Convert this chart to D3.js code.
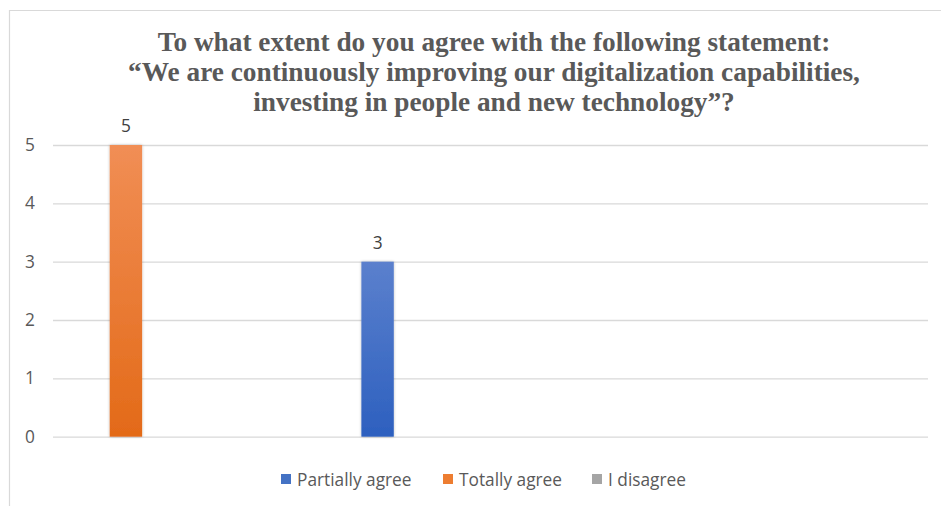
<!DOCTYPE html>
<html>
<head>
<meta charset="utf-8">
<script src="https://cdn.jsdelivr.net/npm/d3@7/dist/d3.min.js"></script>
<style>
  html, body { margin: 0; padding: 0; background: #fff; }
  svg { display: block; }
</style>
</head>
<body>
<div id="chart"></div>
<script>
// Survey responses, one slot per question group (labels left blank on the axis)
const categories = ["q1", "q2", "q3", "q4", "q5", "q6"];
const seriesNames = ["Partially agree", "Totally agree", "I disagree"];
const partiallyAgree = [null, null, 3, null, null, null];
const totallyAgree   = [5, null, null, null, null, null];
const iDisagree      = [null, null, null, null, null, null];
const yTicks = [0, 1, 2, 3, 4, 5];
const titleLines = [
  "To what extent do you agree with the following statement:",
  "\u201CWe are continuously improving our digitalization capabilities,",
  "investing in people and new technology\u201D?"
];

const seriesValues = [partiallyAgree, totallyAgree, iDisagree];
const colors = {
  "Partially agree": ["#5b80cd", "#2d60bf"],
  "Totally agree":   ["#f18e55", "#e36a18"],
  "I disagree":      ["#b4b4b4", "#909090"]
};
const legendColors = { "Partially agree": "#4472c4", "Totally agree": "#ed7d31", "I disagree": "#a5a5a5" };
const sans = "'Open Sans', 'Noto Sans', sans-serif";
const sansSize = 17.3;

const W = 941, H = 506;
const plot = { left: 53, right: 928, top: 145, bottom: 436.7 };

const svg = d3.select("#chart").append("svg").attr("width", W).attr("height", H);
const defs = svg.append("defs");

seriesNames.forEach((s, i) => {
  const g = defs.append("linearGradient")
    .attr("id", "grad" + i).attr("x1", 0).attr("y1", 0).attr("x2", 0).attr("y2", 1);
  g.append("stop").attr("offset", "0%").attr("stop-color", colors[s][0]);
  g.append("stop").attr("offset", "100%").attr("stop-color", colors[s][1]);
});

const shadow = defs.append("filter").attr("id", "barShadow")
  .attr("x", "-30%").attr("y", "-5%").attr("width", "160%").attr("height", "110%");
shadow.append("feGaussianBlur").attr("in", "SourceAlpha").attr("stdDeviation", 1.6).attr("result", "b");
shadow.append("feComponentTransfer").attr("in", "b").attr("result", "s")
  .append("feFuncA").attr("type", "linear").attr("slope", 0.25);
const merge = shadow.append("feMerge");
merge.append("feMergeNode").attr("in", "s");
merge.append("feMergeNode").attr("in", "SourceGraphic");

// Chart frame
svg.append("line").attr("x1", 9).attr("x2", W).attr("y1", 10.5).attr("y2", 10.5)
  .attr("stroke", "#d9d9d9").attr("stroke-width", 1.2);
svg.append("line").attr("x1", 9.5).attr("x2", 9.5).attr("y1", 10).attr("y2", H)
  .attr("stroke", "#d9d9d9").attr("stroke-width", 1.2);

// Title
svg.append("text")
  .attr("text-anchor", "middle")
  .attr("font-family", "'Liberation Serif', 'Times New Roman', serif")
  .attr("font-weight", "bold")
  .attr("font-size", 27.3)
  .attr("fill", "#595959")
  .selectAll("tspan").data(titleLines).join("tspan")
  .attr("x", 494)
  .attr("y", (d, i) => 51 + i * 30)
  .text(d => d);

const x = d3.scaleBand().domain(categories).range([plot.left, plot.right]);
const inner = d3.scaleBand().domain(seriesNames)
  .range([x.bandwidth() / 2 - 60, x.bandwidth() / 2 + 60])
  .paddingInner(0.19).paddingOuter(0.095);
const y = d3.scaleLinear().domain([0, 5]).range([plot.bottom, plot.top]);

// Gridlines and value axis
const yAxis = d3.axisLeft(y).tickValues(yTicks).tickFormat(d3.format("d"))
  .tickSize(-(plot.right - plot.left)).tickPadding(18);
const ga = svg.append("g").attr("transform", `translate(${plot.left},0)`).call(yAxis);
ga.select(".domain").remove();
ga.selectAll(".tick line").attr("stroke", "#d9d9d9").attr("stroke-width", 1.3);
ga.selectAll(".tick text")
  .attr("font-family", sans)
  .attr("font-size", sansSize)
  .attr("fill", "#595959");

// Bars
const flat = [];
categories.forEach((c, ci) => {
  seriesNames.forEach((s, si) => {
    const v = seriesValues[si][ci];
    if (v != null) flat.push({ c, s, si, v });
  });
});

const bars = svg.append("g");
bars.selectAll("rect").data(flat).join("rect")
  .attr("x", d => x(d.c) + inner(d.s))
  .attr("width", inner.bandwidth())
  .attr("y", d => y(d.v))
  .attr("height", d => y(0) - y(d.v))
  .attr("fill", d => `url(#grad${d.si})`)
  .attr("filter", "url(#barShadow)");

bars.selectAll("text").data(flat).join("text")
  .attr("x", d => x(d.c) + inner(d.s) + inner.bandwidth() / 2)
  .attr("y", d => y(d.v) - 13)
  .attr("text-anchor", "middle")
  .attr("font-family", sans)
  .attr("font-size", sansSize)
  .attr("fill", "#404040")
  .text(d => d.v);

// Legend
const legendX = [281, 443, 592];
const lg = svg.append("g");
seriesNames.forEach((s, i) => {
  lg.append("rect").attr("x", legendX[i]).attr("y", 474).attr("width", 10).attr("height", 10)
    .attr("fill", legendColors[s]);
  lg.append("text").attr("x", legendX[i] + 16).attr("y", 485.5)
    .attr("font-family", sans)
    .attr("font-size", sansSize)
    .attr("fill", "#595959")
    .text(s);
});
</script>
</body>
</html>
